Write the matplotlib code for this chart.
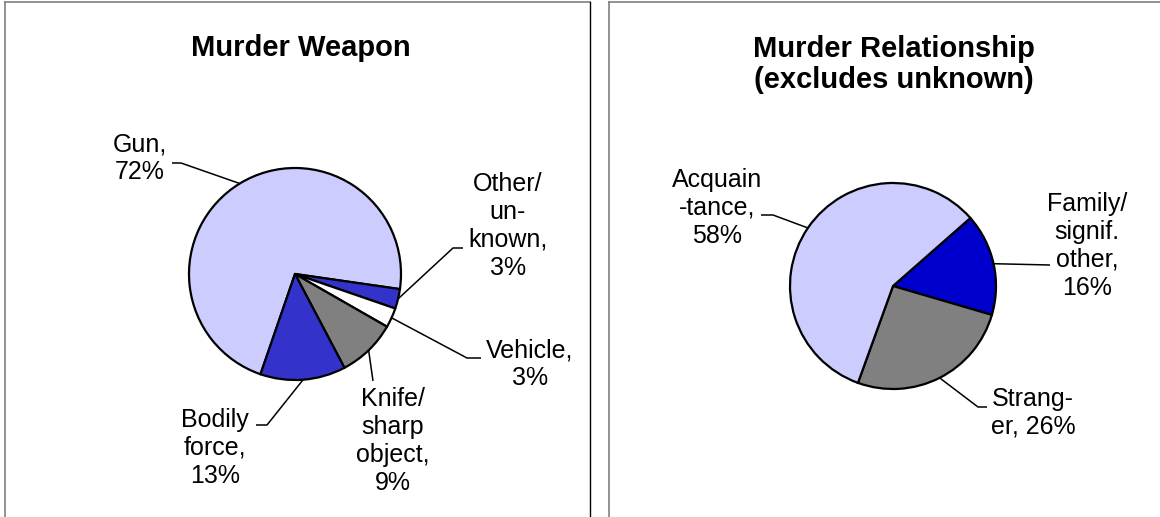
import numpy as np
import matplotlib
matplotlib.use('Agg')
import matplotlib.pyplot as plt

plt.rcParams['font.family'] = ['Liberation Sans', 'DejaVu Sans']

# left chart: murder weapon (clockwise order as drawn)
weapon_labels = ['Gun,\n72%', 'Other/\nun-\nknown,\n3%', 'Vehicle,\n3%',
                 'Knife/\nsharp\nobject,\n9%', 'Bodily\nforce,\n13%']
weapon_values = [72, 3, 3, 9, 13]
weapon_colors = ['#CCCCFF', '#3333CC', '#FFFFFF', '#808080', '#3333CC']

# right chart: relationship (clockwise order as drawn)
rel_labels = ['Family/\nsignif.\nother,\n16%', 'Strang-\ner, 26%', 'Acquain\n-tance,\n58%']
rel_values = [16, 26, 58]
rel_colors = ['#0000CC', '#808080', '#CCCCFF']

W, H = 1160, 517
fig = plt.figure(figsize=(W / 100, H / 100), dpi=100)
ax = fig.add_axes([0, 0, 1, 1])

# label placement in pixels: text centre, elbow of leader, end of leader
weapon_pos = [((140, 158), (181, 163), (172, 163)),
              ((508, 226), (453, 248), (463, 248)),
              ((530, 364), (467, 358), (481, 358)),
              ((393, 441), (373, 381), (373, 381)),
              ((215, 448), (267, 425), (256, 425))]
rel_pos = [((1087, 246), (1050, 265), (1050, 265)),
           ((1033, 413), (978, 407), (987, 407)),
           ((717, 208), (773, 215), (761, 215))]


def draw_pie(values, colors, labels, positions, center, radius, start):
    # y axis is inverted (pixel coords) so counterclock=True draws clockwise
    wedges, _ = ax.pie(values, colors=colors, center=center, radius=radius,
                       startangle=start, counterclock=True, frame=True,
                       wedgeprops=dict(edgecolor='black', linewidth=1.6))
    for w, lab, (txt, elbow, end) in zip(wedges, labels, positions):
        mid = np.deg2rad((w.theta1 + w.theta2) / 2)
        px = center[0] + radius * np.cos(mid)
        py = center[1] + radius * np.sin(mid)
        ax.plot([px, elbow[0], end[0]], [py, elbow[1], end[1]],
                color='black', lw=1.1, solid_capstyle='butt')
        ax.text(txt[0], txt[1], lab, ha='center', va='center',
                multialignment='center', fontsize=18, linespacing=1.2)


draw_pie(weapon_values, weapon_colors, weapon_labels, weapon_pos,
         (295, 274), 106, 109)
draw_pie(rel_values, rel_colors, rel_labels, rel_pos,
         (893, 286), 103, -41.3)

ax.text(301, 56, 'Murder Weapon', ha='center', va='baseline',
        fontsize=21, fontweight='bold')
# baseline of a multi-line text is taken from its last line
ax.text(894, 88, 'Murder Relationship\n(excludes unknown)', ha='center',
        va='baseline', fontsize=21, fontweight='bold', linespacing=1.13)

# chart area borders
ax.plot([4.5, 4.5], [H, 2], color='#808080', lw=1.2)
ax.plot([4.5, 590], [2, 2], color='#808080', lw=1.2)
ax.plot([590, 590], [2, H], color='black', lw=1.0)
ax.plot([609, 609], [H, 2], color='#808080', lw=1.2)
ax.plot([609, W], [2, 2], color='#808080', lw=1.2)

ax.set_xlim(0, W)
ax.set_ylim(H, 0)
ax.set_aspect('equal')
ax.axis('off')

fig.savefig('out.png', dpi=100)
